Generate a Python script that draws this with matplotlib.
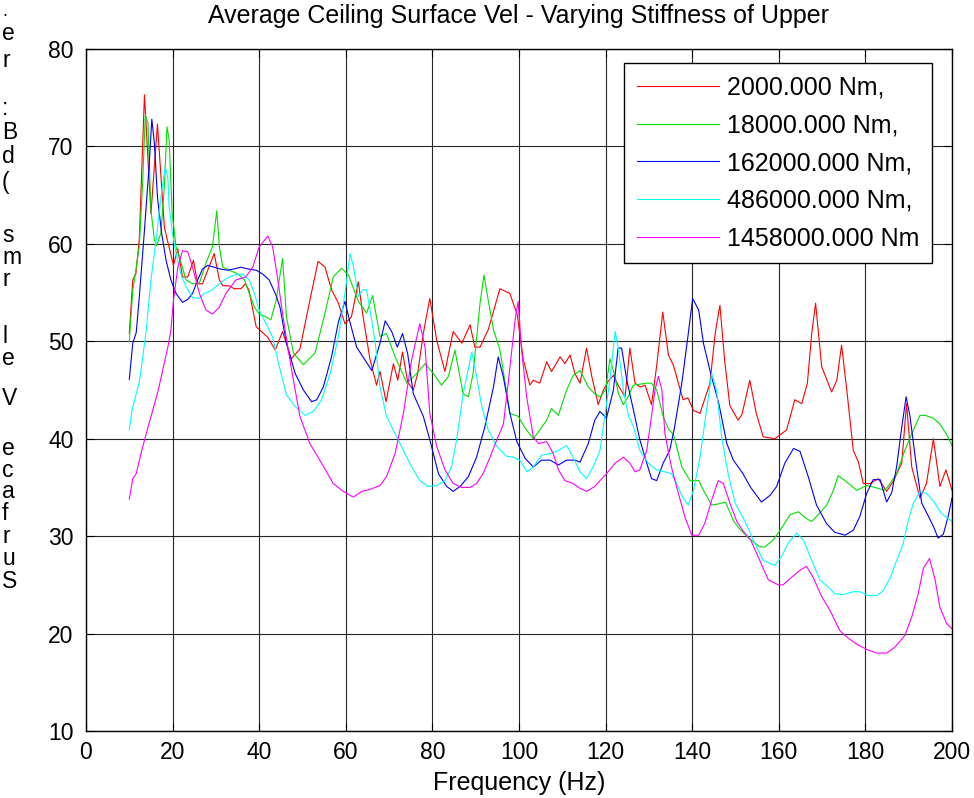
import matplotlib
matplotlib.use("Agg")
import matplotlib.pyplot as plt

plt.rcParams['font.family'] = ['Liberation Sans', 'DejaVu Sans']

title = "Average Ceiling Surface Vel - Varying Stiffness of Upper"
xlabel = "Frequency (Hz)"
ylabel_chars = [".", "e", "r", ":", "B", "d", "(", "s", "m", "r", "l", "e", "V",
                "e", "c", "a", "f", "r", "u", "S"]
ylabel_baselines_px = [16, 40, 67, 115, 139, 163, 189, 242, 264, 286, 343, 365, 405,
                       455, 477, 498, 520, 543, 565, 588]
ylabel_sizes = [13] + [16.5] * 19

labels = ["2000.000 Nm,", "18000.000 Nm,", "162000.000 Nm,", "486000.000 Nm,", "1458000.000 Nm"]
colors = ["#ff0000", "#00e000", "#0000ff", "#00ffff", "#ff00ff"]

xticks = [0, 20, 40, 60, 80, 100, 120, 140, 160, 180, 200]
yticks = [10, 20, 30, 40, 50, 60, 70, 80]

red_f = [10, 10.8, 11.5, 12.3, 13.5, 15.0, 16.5, 18.1, 19.0, 20.2, 21.2, 22.3, 23.5, 24.8, 25.8, 26.9,
         29.6, 30.8, 31.6, 33.1, 34.2, 35.8, 36.8, 37.6, 39.3, 42.0, 43.7, 45.4, 47.4, 49.4, 51.7, 53.6,
         55.2, 56.7, 58.3, 59.8, 61.3, 62.9, 64.0, 65.6, 67.1, 67.9, 69.3, 71.0, 72.0, 73.1, 74.3, 75.6,
         76.6, 77.9, 79.4, 81.0, 82.9, 84.8, 86.8, 88.7, 89.8, 91.0, 92.9, 95.6, 97.9, 99.6, 101.0, 102.5,
         103.3, 104.8, 106.4, 107.5, 109.5, 110.6, 111.8, 112.9, 114.1, 115.6, 116.8, 118.3, 119.5, 120.6,
         121.8, 123.0, 124.5, 125.6, 126.8, 128.0, 129.1, 130.6, 131.8, 133.2, 134.5, 135.7, 136.8, 137.9,
         139.0, 140.3, 141.8, 144.1, 145.3, 146.4, 147.5, 148.7, 150.6, 151.5, 153.3, 154.8, 156.4, 159.1,
         161.8, 163.7, 165.3, 166.6, 167.6, 168.5, 169.9, 172.2, 173.4, 174.5, 175.7, 177.2, 178.4, 179.5,
         181.1, 183.0, 184.9, 186.4, 188.4, 189.5, 190.7, 192.6, 194.1, 195.7, 197.2, 198.6, 200.0]
red_v = [50.8, 56.3, 56.9, 60.4, 75.3, 63.1, 72.3, 61.7, 60.0, 57.8, 59.5, 56.6, 56.6, 58.3, 55.9, 55.9,
         59.0, 56.3, 55.7, 55.7, 55.4, 55.4, 55.9, 55.3, 51.5, 50.4, 49.1, 51.0, 48.2, 49.2, 54.2, 58.2,
         57.6, 55.3, 53.9, 51.8, 52.5, 56.1, 52.5, 48.1, 45.5, 46.9, 43.8, 47.7, 46.0, 48.9, 45.8, 45.0,
         46.7, 50.8, 54.4, 50.1, 46.9, 51.0, 49.8, 51.7, 49.4, 49.4, 51.2, 55.4, 54.9, 52.7, 48.1, 45.5,
         46.0, 45.7, 47.9, 46.9, 48.4, 47.7, 48.6, 46.7, 45.7, 49.3, 46.4, 43.5, 45.0, 45.9,
         46.5, 45.4, 44.3, 49.3, 45.7, 45.3, 45.5, 43.5, 47.5, 53.0, 48.6, 47.5, 45.7, 44.0,
         44.2, 42.9, 42.6, 45.7, 50.8, 53.7, 48.0, 43.4, 41.9, 42.5, 46.0, 42.6, 40.2, 40.0,
         40.9, 44.0, 43.6, 45.7, 50.8, 53.9, 47.4, 44.8, 46.0, 49.6, 45.0, 38.8, 37.6, 35.4,
         35.4, 35.9, 34.6, 35.6, 37.5, 43.6, 37.1, 33.9, 35.4, 40.0, 35.1, 36.8, 34.7]

green_f = [10, 10.8, 12.3, 13.1, 13.7, 14.3, 15.0, 15.8, 16.3, 17.3, 18.1, 18.7, 19.2, 19.9, 20.8, 22.0,
           23.1, 24.6, 26.2, 27.7, 29.2, 30.2, 30.8, 31.6, 33.1, 35.1, 36.6, 37.7, 38.9, 40.0, 41.6, 42.7,
           43.9, 45.4, 46.3, 47.9, 50.2, 52.9, 55.2, 57.1, 59.0, 60.6, 62.9, 64.8, 66.2, 67.9, 69.4, 71.4,
           74.1, 76.4, 78.3, 80.2, 82.1, 83.7, 85.2, 87.1, 88.3, 89.4, 91.0, 91.9, 92.9, 94.1, 95.6, 97.9,
           99.8, 101.4, 103.3, 104.8, 106.4, 107.5, 109.1, 111.0, 112.5, 114.1, 116.0, 117.5, 118.7, 120.0,
           121.0, 121.8, 123.0, 124.1, 125.2, 126.4, 129.5, 130.6, 131.8, 133.3, 134.5, 135.7, 137.6, 139.5,
           141.5, 142.6, 144.5, 146.0, 147.7, 149.5, 151.0, 153.3, 155.6, 156.8, 158.7, 160.6, 162.6, 164.5,
           166.4, 167.6, 169.5, 171.1, 172.6, 173.7, 175.3, 178.0, 180.3, 182.2, 184.5, 185.7, 187.2, 189.1,
           191.1, 192.6, 193.8, 195.7, 197.2, 198.8, 200.0]
green_v = [50.0, 55.2, 59.7, 66.5, 73.2, 72.4, 63.4, 60.4, 59.8, 61.1, 65.9, 72.0, 70.7, 63.1, 59.7, 58.0,
           56.3, 55.9, 56.0, 58.0, 59.7, 63.4, 59.7, 57.6, 57.3, 56.9, 56.3, 54.9, 53.5, 52.8, 52.5, 52.2,
           54.2, 58.5, 52.5, 48.8, 47.6, 48.8, 52.9, 56.6, 57.5, 56.8, 54.1, 52.9, 54.7, 50.5, 50.8, 48.4,
           45.7, 46.7, 47.7, 46.7, 45.5, 46.4, 49.1, 44.6, 44.3, 46.7, 53.9, 56.8, 54.2, 51.2, 49.1, 42.6,
           42.3, 41.1, 40.0, 40.9, 41.9, 43.1, 42.4, 45.0, 46.5, 47.0, 45.3, 44.6, 44.3, 45.0,
           48.2, 47.0, 44.6, 43.5, 44.3, 45.5, 45.7, 45.7, 45.0, 42.3, 41.0, 40.4, 37.1, 35.7,
           35.7, 34.7, 33.2, 33.3, 33.5, 31.6, 30.7, 29.7, 28.9, 28.9, 29.6, 30.8, 32.2, 32.5,
           31.8, 31.5, 32.4, 33.2, 34.7, 36.2, 35.7, 34.7, 35.2, 35.0, 34.7, 35.4, 36.4, 38.8,
           40.9, 42.4, 42.4, 42.1, 41.5, 40.4, 39.3]

blue_f = [10, 10.8, 11.6, 12.3, 13.5, 14.6, 15.2, 15.8, 16.5, 17.5, 18.5, 19.6, 20.8, 22.3, 23.5, 24.6,
          25.8, 26.9, 28.1, 29.6, 31.2, 32.7, 33.9, 35.8, 37.7, 39.3, 40.8, 42.3, 43.9, 44.8, 46.3, 48.3,
          50.2, 52.1, 53.3, 54.8, 56.7, 58.3, 59.8, 61.0, 62.5, 64.4, 66.0, 67.9, 69.1, 70.6, 71.9, 73.1,
          74.3, 75.6, 77.9, 79.4, 81.4, 83.3, 84.8, 86.4, 88.3, 90.2, 92.1, 94.1, 95.2, 96.4, 97.9, 99.5,
          101.4, 103.3, 105.2, 107.2, 109.1, 111.0, 112.9, 114.1, 116.0, 117.5, 118.7, 120.2, 121.8, 122.9,
          123.7, 124.9, 126.4, 127.9, 129.5, 130.6, 131.8, 133.3, 134.8, 135.9, 137.6, 139.1, 140.1, 141.5,
          142.6, 144.1, 146.2, 148.0, 149.5, 151.6, 153.5, 156.0, 158.0, 159.5, 161.4, 163.4, 164.9, 166.8,
          168.7, 171.0, 172.9, 175.3, 177.2, 178.7, 180.3, 181.8, 183.4, 184.9, 186.1, 187.2, 188.4, 189.4,
          190.3, 191.5, 193.0, 194.6, 195.7, 196.8, 198.0, 199.1, 200.0]
blue_v = [46.1, 49.8, 50.9, 54.5, 61.4, 68.2, 72.8, 70.3, 64.8, 61.0, 58.3, 56.3, 54.9, 54.0, 54.3, 54.9,
          56.3, 57.4, 57.8, 57.6, 57.4, 57.3, 57.4, 57.6, 57.4, 57.3, 56.9, 56.3, 54.7, 53.5, 49.8, 46.7,
          45.0, 43.8, 44.0, 45.3, 48.4, 52.0, 54.1, 51.9, 49.4, 48.1, 47.0, 49.8, 52.1, 51.0, 49.4, 50.8,
          48.7, 44.6, 42.3, 39.9, 36.4, 35.1, 34.6, 35.1, 36.1, 38.1, 41.2, 45.3, 48.4, 46.3, 42.6, 39.7,
          38.0, 37.1, 37.8, 37.8, 37.3, 37.8, 37.8, 37.6, 39.5, 41.9, 42.8, 42.1, 45.0, 49.3,
          49.3, 46.0, 43.0, 39.9, 37.5, 35.9, 35.7, 37.5, 38.8, 41.1, 45.7, 50.8, 54.4, 53.2,
          49.8, 47.0, 43.5, 39.5, 37.8, 36.5, 35.0, 33.5, 34.2, 35.1, 37.5, 39.0, 38.7, 36.1,
          33.2, 31.3, 30.4, 30.1, 30.6, 32.0, 34.4, 35.8, 35.8, 33.5, 34.5, 37.1, 41.2, 44.3,
          42.3, 38.1, 33.4, 32.0, 31.0, 29.8, 30.2, 32.0, 33.9]

cyan_f = [10, 10.6, 11.6, 12.3, 12.9, 13.9, 15.0, 16.2, 17.3, 18.3, 18.9, 19.2, 20.0, 20.8, 21.9, 23.1,
          24.6, 26.2, 27.3, 28.9, 30.8, 32.3, 34.2, 36.2, 37.7, 38.9, 40.0, 41.6, 43.1, 44.6, 46.3, 48.3,
          50.6, 52.5, 54.4, 56.4, 58.3, 59.8, 61.0, 61.8, 62.9, 64.0, 64.8, 65.6, 66.8, 67.9, 69.4, 71.4,
          73.3, 75.2, 77.1, 79.0, 81.0, 82.9, 84.4, 85.6, 87.1, 89.1, 90.2, 91.4, 92.9, 94.9, 97.1, 98.7,
          100.2, 101.8, 103.3, 105.2, 107.5, 109.1, 111.0, 112.5, 114.1, 115.6, 117.1, 118.7, 119.9, 121.0,
          122.2, 123.0, 124.1, 125.3, 126.4, 127.9, 129.8, 131.8, 133.7, 135.2, 136.4, 137.9, 139.1, 140.3,
          141.8, 143.3, 144.5, 145.6, 146.8, 148.3, 149.9, 152.2, 154.1, 156.4, 159.1, 160.6, 162.2, 164.1,
          165.7, 167.6, 169.5, 171.4, 172.9, 174.9, 177.2, 178.7, 180.7, 182.6, 184.1, 185.7, 187.2, 188.7,
          189.9, 191.1, 192.6, 194.1, 195.7, 197.6, 200.0]
cyan_v = [40.9, 42.9, 44.6, 45.8, 47.7, 51.1, 56.3, 60.4, 64.8, 67.9, 66.8, 63.8, 61.0, 59.0, 56.9, 55.6,
          54.5, 54.4, 54.9, 55.2, 55.9, 56.4, 56.8, 56.9, 56.3, 54.9, 53.2, 51.8, 50.4, 47.5, 44.5, 43.3,
          42.4, 42.8, 44.0, 46.7, 50.5, 54.9, 59.0, 57.6, 54.6, 55.3, 55.3, 53.2, 49.8, 45.3, 42.3, 40.5,
          38.8, 37.1, 35.7, 35.1, 35.2, 35.7, 37.1, 39.9, 44.6, 48.9, 46.4, 43.3, 40.9, 39.2, 38.2, 38.1,
          37.8, 36.6, 37.1, 38.3, 38.5, 38.8, 39.3, 38.1, 36.6, 35.9, 37.1, 38.8, 42.6, 46.0,
          51.0, 49.1, 45.0, 42.3, 41.3, 38.8, 37.5, 36.8, 36.6, 36.4, 35.4, 33.9, 33.2, 34.7,
          38.1, 42.9, 46.7, 45.0, 40.2, 36.4, 33.4, 31.5, 29.6, 27.5, 27.0, 27.9, 29.3, 30.3,
          29.6, 27.5, 25.5, 24.8, 24.1, 24.0, 24.3, 24.3, 23.9, 23.9, 24.4, 25.7, 27.5, 29.2,
          31.6, 33.4, 34.6, 34.4, 33.6, 32.3, 31.5]

mag_f = [10, 10.8, 11.6, 12.7, 13.9, 15.4, 16.7, 17.7, 18.9, 19.6, 20.2, 21.2, 22.3, 23.5, 24.6, 26.2,
         27.7, 29.2, 30.8, 32.3, 34.6, 36.9, 38.5, 40.0, 42.0, 43.1, 44.3, 45.4, 46.6, 47.7, 49.4, 51.7,
         54.4, 57.1, 59.4, 61.7, 63.7, 65.6, 67.9, 69.4, 71.4, 73.3, 75.2, 77.1, 78.3, 79.4, 81.0, 82.9,
         84.8, 86.8, 88.7, 90.2, 91.8, 93.3, 94.9, 96.4, 97.5, 99.1, 99.8, 100.6, 101.8, 103.3, 104.5, 106.4,
         107.9, 109.1, 110.6, 112.5, 114.1, 115.6, 117.5, 118.7, 120.2, 122.2, 124.1, 125.6, 126.8, 127.9,
         129.5, 130.6, 131.4, 132.2, 133.0, 133.7, 135.2, 136.8, 138.3, 139.9, 141.5, 142.9, 144.5, 146.0,
         147.2, 148.7, 150.3, 151.8, 153.5, 155.6, 157.6, 159.9, 161.0, 163.0, 164.9, 166.4, 167.9, 169.9,
         171.8, 174.1, 176.1, 178.4, 180.7, 182.6, 184.9, 186.8, 189.1, 190.7, 192.2, 193.4, 194.8, 196.1,
         197.2, 198.8, 200.0]
mag_v = [33.8, 35.9, 36.4, 38.5, 40.5, 42.9, 45.0, 47.0, 49.4, 51.1, 54.2, 57.6, 59.3, 59.2, 57.6, 54.9,
         53.2, 52.8, 53.5, 54.9, 56.3, 56.6, 57.6, 59.7, 60.8, 59.7, 56.3, 52.8, 49.4, 46.5, 42.3, 39.5,
         37.5, 35.4, 34.6, 34.0, 34.6, 34.8, 35.2, 36.1, 38.5, 42.6, 48.1, 51.8, 49.4, 42.6, 39.2, 36.8,
         35.4, 35.0, 35.0, 35.4, 36.5, 38.1, 39.9, 41.5, 45.7, 52.2, 54.1, 49.1, 44.2, 40.2, 39.5, 39.7,
         38.5, 36.8, 35.7, 35.4, 34.9, 34.6, 35.1, 35.7, 36.4, 37.5, 38.1, 37.5, 36.6, 36.8,
         38.8, 42.3, 45.0, 46.4, 45.0, 40.5, 37.1, 34.4, 32.0, 30.1, 30.1, 31.3, 33.7, 35.7,
         35.4, 33.4, 31.5, 30.5, 29.6, 27.5, 25.5, 25.0, 25.0, 25.8, 26.5, 26.9, 25.8, 23.8,
         22.4, 20.3, 19.5, 18.8, 18.3, 18.0, 18.0, 18.6, 19.8, 21.7, 24.1, 26.7, 27.7, 25.5,
         22.7, 21.0, 20.5]

series_f = [red_f, green_f, blue_f, cyan_f, mag_f]
series_v = [red_v, green_v, blue_v, cyan_v, mag_v]

W, H = 974, 798
fig = plt.figure(figsize=(W / 100, H / 100), dpi=100)
fig.patch.set_facecolor('white')
L, R, T, B = 86, 952, 49, 731
ax = fig.add_axes([L / W, (H - B) / H, (R - L) / W, (B - T) / H])

for f, v, c, lab in zip(series_f, series_v, colors, labels):
    ax.plot(f, v, color=c, lw=0.8, label=lab)

ax.set_xlim(0, 200)
ax.set_ylim(10, 80)
ax.set_xticks(xticks)
ax.set_yticks(yticks)
ax.grid(True, color='black', lw=0.8, alpha=0.85)
ax.set_axisbelow(True)
fs = 16.5
fs_big = 18
ax.tick_params(direction='in', length=6, width=0.8, top=True, right=True,
               labelsize=fs, colors='black')
ax.tick_params(axis='y', pad=9)
ax.tick_params(axis='x', pad=7)
for s in ax.spines.values():
    s.set_linewidth(1.0)
    s.set_color('black')

ax.set_title(title, fontsize=fs_big, pad=19)
ax.set_xlabel(xlabel, fontsize=fs_big, labelpad=5)

for ch, yb, sz in zip(ylabel_chars, ylabel_baselines_px, ylabel_sizes):
    fig.text(2 / W, 1 - yb / H, ch, fontsize=sz, ha='left', va='baseline')

leg = ax.legend(loc='upper right', bbox_to_anchor=(932 / W, 1 - 63 / H),
                bbox_transform=fig.transFigure, borderaxespad=0, fontsize=fs_big,
                fancybox=False, framealpha=1, edgecolor='black',
                handlelength=3.3, handletextpad=0.32, labelspacing=0.55, borderpad=0.5)
leg.get_frame().set_linewidth(1.0)

fig.savefig('out.png', dpi=100)
